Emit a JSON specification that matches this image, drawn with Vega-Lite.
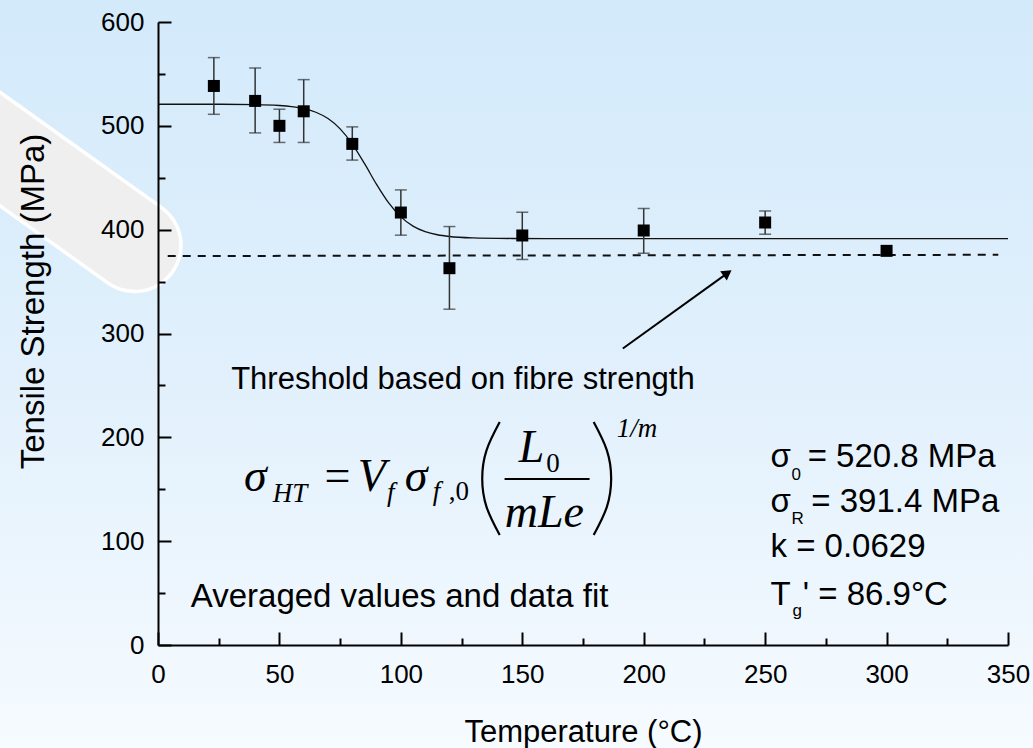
{
  "$schema": "https://vega.github.io/schema/vega-lite/v6.json",
  "width": 850,
  "height": 623,
  "autosize": {"type": "none"},
  "padding": {"left": 158, "top": 22, "right": 25, "bottom": 103},
  "background": "#e3f2fc",
  "config": {"view": {"stroke": null}, "font": "Liberation Sans"},
  "datasets": {
    "bg": [{"T": -66, "T2": 362, "s": 625, "s2": -102}],
    "blob": [{"T": -81.7, "s": 505.4}, {"T": -9.6, "s": 385.0}],
    "curve": [
      {"T": 0, "s": 520.8}, {"T": 20, "s": 520.8}, {"T": 40, "s": 520.5}, {"T": 50, "s": 519.6},
      {"T": 55, "s": 518.5}, {"T": 60, "s": 516.6}, {"T": 65, "s": 513.1}, {"T": 70, "s": 507.0},
      {"T": 75, "s": 497.1}, {"T": 80, "s": 482.5}, {"T": 85, "s": 463.8}, {"T": 90, "s": 443.6},
      {"T": 95, "s": 425.7}, {"T": 100, "s": 412.3}, {"T": 105, "s": 403.4}, {"T": 110, "s": 398.1},
      {"T": 115, "s": 395.1}, {"T": 120, "s": 393.4}, {"T": 130, "s": 392.0}, {"T": 140, "s": 391.6},
      {"T": 160, "s": 391.4}, {"T": 200, "s": 391.4}, {"T": 350, "s": 391.4}
    ],
    "points": [
      {"T": 23, "s": 538.4}, {"T": 40, "s": 524.0}, {"T": 50, "s": 500.0}, {"T": 60, "s": 514.0},
      {"T": 80, "s": 482.6}, {"T": 100, "s": 416.5}, {"T": 120, "s": 362.9}, {"T": 150, "s": 394.4},
      {"T": 200, "s": 399.2}, {"T": 250, "s": 406.9}, {"T": 300, "s": 379.6}
    ],
    "errors": [
      {"T": 23, "s": 511.1, "s2": 565.7}, {"T": 40, "s": 493.2, "s2": 555.7}, {"T": 50, "s": 484.0, "s2": 516.0},
      {"T": 60, "s": 484.0, "s2": 544.5}, {"T": 80, "s": 467.0, "s2": 499.0}, {"T": 100, "s": 394.7, "s2": 438.3},
      {"T": 120, "s": 323.4, "s2": 403.0}, {"T": 150, "s": 371.3, "s2": 416.8}, {"T": 200, "s": 377.3, "s2": 420.4},
      {"T": 250, "s": 395.6, "s2": 418.0}
    ],
    "threshold": [{"T": 4, "s": 374.6}, {"T": 346, "s": 375.8}],
    "arrowLine": [{"T": 191.4, "s": 285.6}, {"T": 234.5, "s": 358.2}],
    "arrowHead": [{"T": 234.5, "s": 358.2}],
    "fbig": [
      {"T": 35.4, "s": 148.5, "t": "σ"}, {"T": 82.2, "s": 148.5, "t": "V"}, {"T": 101.6, "s": 148.5, "t": "σ"},
      {"T": 148.5, "s": 176.4, "t": "L"}, {"T": 142.8, "s": 113.9, "t": "mLe"}
    ],
    "fsubi": [
      {"T": 47.2, "s": 138.0, "t": "HT"}, {"T": 94.3, "s": 138.6, "t": "f"}, {"T": 113.1, "s": 139.6, "t": "f"},
      {"T": 188.9, "s": 200.2, "t": "1/m"}
    ],
    "fsubu": [{"T": 119.7, "s": 139.6, "t": ",0"}, {"T": 159.9, "s": 166.8, "t": "0"}],
    "feq": [{"T": 68.6, "s": 148.5, "t": "="}],
    "frac": [{"T": 142.7, "T2": 177.7, "s": 159.8}],
    "parens": [
      {"p": "l", "T": 140.7, "s": 214.7}, {"p": "l", "T": 135.3, "s": 187.7}, {"p": "l", "T": 133.5, "s": 160.3},
      {"p": "l", "T": 135.3, "s": 132.8}, {"p": "l", "T": 140.7, "s": 105.9},
      {"p": "r", "T": 179.4, "s": 214.7}, {"p": "r", "T": 184.8, "s": 187.7}, {"p": "r", "T": 186.6, "s": 160.3},
      {"p": "r", "T": 184.8, "s": 132.8}, {"p": "r", "T": 179.4, "s": 105.9}
    ],
    "stats": [
      {"T": 252.2, "s": 171.2, "t": "σ"}, {"T": 267.5, "s": 171.2, "t": "= 520.8 MPa"},
      {"T": 252.2, "s": 128.3, "t": "σ"}, {"T": 269.0, "s": 128.3, "t": "= 391.4 MPa"},
      {"T": 252.2, "s": 85.0, "t": "k = 0.0629"},
      {"T": 252.2, "s": 38.5, "t": "T"}, {"T": 265.5, "s": 38.5, "t": "' = 86.9°C"},
      {"T": 13.5, "s": 36.9, "t": "Averaged values and data fit"}
    ],
    "statsub": [{"T": 260.9, "s": 158.8, "t": "0"}, {"T": 260.9, "s": 116.5, "t": "R"}, {"T": 261.3, "s": 27.9, "t": "g"}],
    "note": [{"T": 221.0, "s": 246.1, "t": "Threshold based on fibre strength"}]
  },
  "encoding": {
    "x": {
      "field": "T", "type": "quantitative",
      "scale": {"domain": [0, 350], "nice": false, "zero": false},
      "axis": {
        "title": "Temperature (°C)",
        "values": [0, 25, 50, 75, 100, 125, 150, 175, 200, 225, 250, 275, 300, 325, 350],
        "labelExpr": "datum.value % 50 === 0 ? datum.label : ''",
        "tickSize": {"expr": "datum.value % 50 === 0 ? -13 : -7"},
        "tickWidth": 2, "tickColor": "black", "domainColor": "black", "domainWidth": 2,
        "labelFont": "Liberation Sans", "labelFontSize": 26, "labelColor": "black", "labelPadding": 29,
        "labelFlush": false, "labelOverlap": false,
        "titleFont": "Liberation Sans", "titleFontSize": 31, "titleFontWeight": "normal", "titleColor": "black",
        "titlePadding": 24, "grid": false, "zindex": 1
      }
    },
    "y": {
      "field": "s", "type": "quantitative",
      "scale": {"domain": [0, 600], "nice": false, "zero": false},
      "axis": {
        "title": "Tensile Strength (MPa)",
        "values": [0, 50, 100, 150, 200, 250, 300, 350, 400, 450, 500, 550, 600],
        "labelExpr": "datum.value % 100 === 0 ? datum.label : ''",
        "tickSize": {"expr": "datum.value % 100 === 0 ? -13 : -7"},
        "tickWidth": 2, "tickColor": "black", "domainColor": "black", "domainWidth": 2,
        "labelFont": "Liberation Sans", "labelFontSize": 26, "labelColor": "black", "labelPadding": 27,
        "labelFlush": false, "labelOverlap": false,
        "titleFont": "Liberation Sans", "titleFontSize": 33, "titleFontWeight": "normal", "titleColor": "black",
        "titlePadding": 50, "titleY": 279, "grid": false, "zindex": 1
      }
    }
  },
  "layer": [
    {"data": {"name": "bg"},
     "mark": {"type": "rect", "clip": false,
      "fill": {"gradient": "linear", "x1": 0, "y1": 0, "x2": 0, "y2": 1,
        "stops": [{"offset": 0, "color": "#d3eafb"}, {"offset": 0.5, "color": "#e1f0fc"}, {"offset": 1, "color": "#f6fbff"}]}},
     "encoding": {"x2": {"field": "T2"}, "y2": {"field": "s2"}}},
    {"data": {"name": "blob"}, "mark": {"type": "line", "clip": false, "color": "#ffffff", "strokeWidth": 96, "strokeCap": "round"}},
    {"data": {"name": "blob"}, "mark": {"type": "line", "clip": false, "color": "#efefef", "strokeWidth": 89, "strokeCap": "round"}},
    {"data": {"name": "threshold"}, "mark": {"type": "line", "color": "#111", "strokeWidth": 2, "strokeDash": [8, 7]}},
    {"data": {"name": "curve"}, "mark": {"type": "line", "color": "#111", "strokeWidth": 1.3, "interpolate": "monotone"}},
    {"data": {"name": "errors"}, "mark": {"type": "errorbar", "ticks": true, "size": 12, "thickness": 1.5, "color": "#333"},
     "encoding": {"y2": {"field": "s2"}}},
    {"data": {"name": "points"}, "mark": {"type": "point", "shape": "square", "size": 144, "filled": true, "color": "black", "opacity": 1}},
    {"data": {"name": "arrowLine"}, "mark": {"type": "line", "color": "black", "strokeWidth": 2}},
    {"data": {"name": "arrowHead"}, "mark": {"type": "point", "shape": "triangle-up", "size": 130, "angle": 54.5, "filled": true, "color": "black", "opacity": 1}},
    {"data": {"name": "note"}, "mark": {"type": "text", "align": "right", "baseline": "alphabetic", "font": "Liberation Sans", "fontSize": 31, "color": "black"},
     "encoding": {"text": {"field": "t"}}},
    {"data": {"name": "fbig"}, "mark": {"type": "text", "align": "left", "baseline": "alphabetic", "font": "Liberation Serif", "fontStyle": "italic", "fontSize": 46, "color": "black"},
     "encoding": {"text": {"field": "t"}}},
    {"data": {"name": "fsubi"}, "mark": {"type": "text", "align": "left", "baseline": "alphabetic", "font": "Liberation Serif", "fontStyle": "italic", "fontSize": 27, "color": "black"},
     "encoding": {"text": {"field": "t"}}},
    {"data": {"name": "fsubu"}, "mark": {"type": "text", "align": "left", "baseline": "alphabetic", "font": "Liberation Serif", "fontSize": 27, "color": "black"},
     "encoding": {"text": {"field": "t"}}},
    {"data": {"name": "feq"}, "mark": {"type": "text", "align": "left", "baseline": "alphabetic", "font": "Liberation Serif", "fontSize": 46, "color": "black"},
     "encoding": {"text": {"field": "t"}}},
    {"data": {"name": "frac"}, "mark": {"type": "rule", "color": "black", "strokeWidth": 2},
     "encoding": {"x2": {"field": "T2"}}},
    {"data": {"name": "parens"}, "mark": {"type": "line", "color": "black", "strokeWidth": 2.2, "interpolate": "natural"},
     "encoding": {"detail": {"field": "p"}, "order": {"field": "s"}}},
    {"data": {"name": "stats"}, "mark": {"type": "text", "align": "left", "baseline": "alphabetic", "font": "Liberation Sans", "fontSize": 33, "color": "black"},
     "encoding": {"text": {"field": "t"}}},
    {"data": {"name": "statsub"}, "mark": {"type": "text", "align": "left", "baseline": "alphabetic", "font": "Liberation Sans", "fontSize": 17, "color": "black"},
     "encoding": {"text": {"field": "t"}}}
  ]
}
